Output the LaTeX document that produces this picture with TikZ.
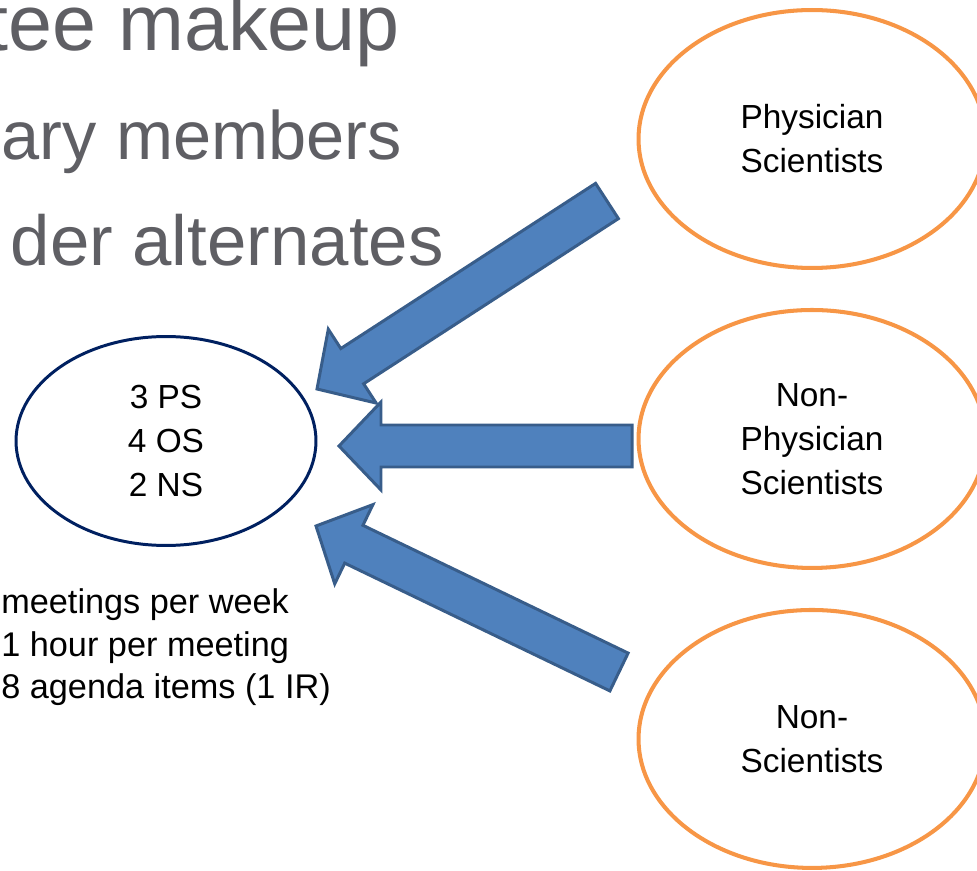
\documentclass[tikz,border=0pt]{standalone}
\usepackage{fontspec}
\setmainfont{Liberation Sans}
\usetikzlibrary{positioning,shapes.geometric,calc}
\definecolor{navy}{RGB}{0,32,96}
\definecolor{groupline}{RGB}{247,150,70}
\definecolor{arrowfill}{RGB}{79,129,189}
\definecolor{arrowline}{RGB}{56,93,138}
\definecolor{titlegray}{RGB}{95,95,100}

\begin{document}
\begin{tikzpicture}[
    x=0.02cm, y=-0.02cm, node distance=.76cm,
    lbl/.style={font=\fontsize{19}{25}\selectfont, align=center},
    group/.style={ellipse, draw=groupline, line width=2.3pt, lbl,
      minimum width=6.94cm, minimum height=5.16cm},
    team/.style={ellipse, draw=navy, line width=1.7pt, lbl,
      minimum width=6cm, minimum height=4.18cm},
    blockarrow/.style={fill=arrowfill, draw=arrowline, line width=1.7pt},
    heading/.style={text=titlegray, inner sep=0, anchor=base east}]
  \useasboundingbox (0,0) rectangle (977,871);

  % slide text, cut at the left edge
  \node[heading, font=\fontsize{45}{52}\selectfont] (title) at (400,51) {tee makeup};
  \node[heading, font=\fontsize{39}{46}\selectfont] (members) at (402,160) {ary members};
  \node[heading, font=\fontsize{40.3}{46}\selectfont] (alternates) at (444,266) {der alternates};

  % committee and the three groups
  \node[team] (team) at (166,441) {3 PS\\4 OS\\2 NS};
  \node[group] (phys) at (812,139) {Physician\\Scientists};
  \node[group, below=of phys] (nonphys) {Non-\\Physician\\Scientists};
  \node[group, below=of nonphys] (nonsci) {Non-\\Scientists};

  \node[align=left, anchor=north west, inner sep=0, font=\fontsize{19.5}{24.4}\selectfont]
    (info) at (1,588) {meetings per week\\1 hour per meeting\\8 agenda items (1 IR)};

  % block arrows from the groups to the committee
  \coordinate (phys-tail) at (607,201);
  \coordinate (phys-tip) at (317,389);
  \coordinate (nonphys-tail) at (632,446);
  \coordinate (nonphys-tip) at (339,446);
  \coordinate (nonsci-tail) at (619,672);
  \coordinate (nonsci-tip) at (316,526);

  \foreach \a/\b in {phys-tail/phys-tip, nonphys-tail/nonphys-tip, nonsci-tail/nonsci-tip} {
    \coordinate (hb) at ($(\b)!.84cm!(\a)$);
    \draw[blockarrow] ($(\a)!.42cm!90:(\b)$) -- ($(hb)!.42cm!90:(\b)$)
      -- ($(hb)!.88cm!90:(\b)$) -- (\b) -- ($(hb)!.88cm!-90:(\b)$)
      -- ($(hb)!.42cm!-90:(\b)$) -- ($(\a)!.42cm!-90:(\b)$) -- cycle;
  }
\end{tikzpicture}
\end{document}
